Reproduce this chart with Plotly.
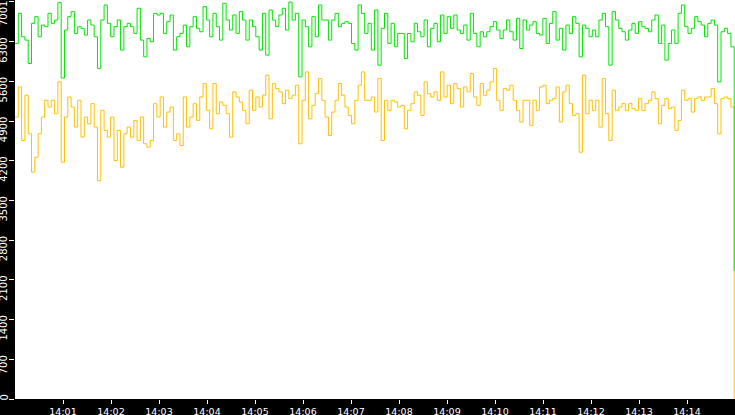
import pandas as pd
import plotly.graph_objects as go

# ---- data (one sample every ~4 s, 14:00:00 - 14:14:59) ----
green_values = [
    6270, 6801, 6388, 6329, 5916, 6624, 6742, 6388, 6594,
    6565, 6801, 6624, 6683, 6990, 5660, 6506, 6742, 6830, 6447, 6565, 6536, 6418, 6683, 6594, 6388, 5830, 6683,
    6948, 6624, 6388, 6565, 6683, 6152, 6565, 6624, 6565, 6447, 6890, 6329, 6034, 6358, 6300, 6801, 6772,
    6801, 6447, 6654, 6772, 6152, 6388, 6447, 6594, 6211, 6565, 6742, 6536, 6476, 6919, 6683, 6388, 6801, 6565,
    6329, 6978, 6683, 6506, 6772, 6447, 6830, 6683, 6329, 6683, 6565, 6388, 6152, 6801, 6064, 6860, 6683,
    6565, 6772, 6890, 6506, 7000, 6683, 6801, 5680, 6683, 6565, 6211, 6742, 6388, 6948, 6683, 6683, 6329, 6683,
    6801, 6565, 6624, 6654, 6624, 6270, 6152, 6948, 6801, 6447, 6624, 6152, 6860, 5887, 6536, 6801, 6270,
    6624, 6211, 6447, 6447, 6004, 6447, 6300, 6624, 6476, 6388, 6683, 6211, 6536, 6624, 6300, 6772, 6447, 6742,
    6536, 6772, 6506, 6447, 6594, 6329, 6801, 6447, 6211, 6476, 6388, 6476, 6565, 6654, 6506, 6358, 6506,
    6683, 6476, 6329, 6712, 6180, 6683, 6506, 6594, 6654, 6447, 6418, 6712, 6270, 6624, 6830, 6329, 6536, 6152,
    6594, 6447, 6742, 6624, 6034, 6594, 6536, 6388, 6506, 6388, 6683, 6801, 6565, 5887, 6830, 6683, 6536,
    6476, 6329, 6506, 6624, 6447, 6654, 6565, 6536, 6476, 6683, 6772, 6270, 6594, 5975, 6270, 6506, 6270, 6801,
    6948, 6565, 6447, 6536, 6742, 6654, 6594, 6388, 6624, 6683, 6594, 5592, 6476, 6536, 6447, 6211, 2260,
]

yellow_values = [
    4972, 5503, 4559, 5356, 4677, 4000, 4264, 4677, 4972,
    5267, 5149, 5267, 5031, 5592, 4176, 4972, 5326, 5149, 4795, 5267, 4618, 4972, 4854, 5208, 4795, 3851, 5090,
    4736, 4618, 4972, 4205, 4736, 4087, 4677, 4795, 4618, 4913, 4559, 4972, 4500, 4441, 4559, 5208, 4972,
    5326, 4795, 5060, 5149, 4559, 4677, 4470, 5326, 4795, 4972, 5208, 4913, 5326, 5562, 5090, 4765, 5562, 5031,
    5238, 5178, 5031, 4618, 5415, 5326, 5238, 5090, 4854, 5444, 5090, 5326, 5149, 5356, 5710, 4942, 5562,
    5474, 5415, 5208, 5444, 5297, 5356, 5533, 4500, 5267, 5768, 4942, 5178, 5385, 5650, 5267, 4972, 4647, 5060,
    5267, 5562, 5356, 5149, 5001, 4854, 5267, 5533, 5768, 5267, 5267, 5326, 5060, 5650, 4559, 5267, 5090,
    5267, 5238, 5149, 5178, 4765, 5090, 5208, 5415, 5356, 5001, 5592, 5385, 5326, 5415, 5267, 5768, 5326, 5533,
    5208, 5562, 5474, 5149, 5503, 5415, 5739, 5326, 5178, 5562, 5356, 5444, 5592, 5827, 5267, 5090, 5474,
    5444, 5533, 5267, 5090, 4884, 5267, 5267, 4825, 5267, 5090, 5503, 5533, 5208, 5267, 5297, 5503, 4884, 5415,
    5533, 5208, 5001, 5031, 4352, 5710, 5031, 5267, 5090, 5267, 4795, 5650, 5031, 4559, 5444, 5090, 5149,
    5208, 5090, 5208, 5119, 5090, 5297, 5090, 5208, 5267, 5415, 5297, 4854, 5178, 5297, 5119, 5149, 4736, 4913,
    5444, 5267, 5297, 5060, 5297, 5326, 5267, 5326, 5326, 5474, 5208, 4677, 5297, 5326, 5297, 5149, 0,
]

start_time = "2024-01-01 14:00:00"
last_time = "2024-01-01 14:14:59"
axis_end = "2024-01-01 14:15:00"

x_tick_labels = ["14:01", "14:02", "14:03", "14:04", "14:05", "14:06", "14:07",
                 "14:08", "14:09", "14:10", "14:11", "14:12", "14:13", "14:14"]
y_ticks = [0, 700, 1400, 2100, 2800, 3500, 4200, 4900, 5600, 6300, 7001]
y_top = 7036

times = pd.date_range(start_time, last_time, periods=len(green_values))
x_tickvals = [pd.Timestamp("2024-01-01 " + t) for t in x_tick_labels]

fig = go.Figure()
fig.add_trace(go.Scatter(x=times, y=yellow_values, mode="lines",
                         line=dict(color="#FFC000", width=1, shape="hv"),
                         hoverinfo="skip", showlegend=False))
fig.add_trace(go.Scatter(x=times, y=green_values, mode="lines",
                         line=dict(color="#00E600", width=1, shape="hv"),
                         hoverinfo="skip", showlegend=False))

font_family = "DejaVu Sans"

for v in y_ticks:
    if v == y_ticks[-1]:
        fig.add_annotation(x=0, xref="paper", y=1, yref="paper",
                           text=str(v), textangle=-90, showarrow=False,
                           xanchor="right", yanchor="top", xshift=-5,
                           borderpad=0, font=dict(color="white", size=10, family=font_family))
    else:
        fig.add_annotation(x=0, xref="paper", y=v, yref="y",
                           text=str(v), textangle=-90, showarrow=False,
                           xanchor="right", yanchor="top", xshift=-5, yshift=5,
                           borderpad=0, font=dict(color="white", size=10, family=font_family))

fig.update_layout(
    width=735, height=415,
    margin=dict(l=15, r=0, t=0, b=16),
    paper_bgcolor="black",
    plot_bgcolor="white",
    showlegend=False,
    font=dict(family=font_family, color="white", size=9.5),
    xaxis=dict(
        type="date",
        range=[start_time, axis_end],
        tickvals=x_tickvals,
        ticktext=x_tick_labels,
        ticks="outside", ticklen=4, tickwidth=1, tickcolor="white",
        tickfont=dict(color="white", size=9.5, family=font_family),
        showgrid=False, zeroline=False, showline=False,
        automargin=False,
    ),
    yaxis=dict(
        range=[0, y_top],
        tickvals=y_ticks,
        showticklabels=False,
        ticks="outside", ticklen=5, tickwidth=1, tickcolor="white",
        showgrid=False, zeroline=False, showline=False,
        automargin=False,
    ),
)

fig.write_html(
    "out.html",
    config={"displayModeBar": False},
    post_script="document.body.style.margin='0';document.body.style.overflow='hidden';",
)
